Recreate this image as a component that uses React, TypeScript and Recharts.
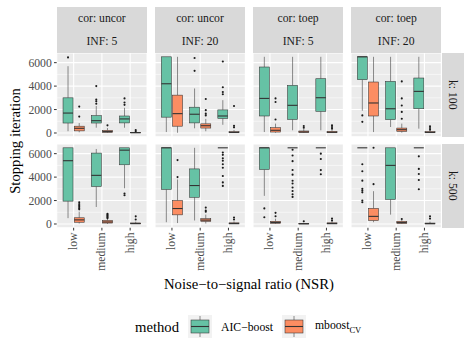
import React from 'react';
import { Bar, BarChart, CartesianGrid, XAxis, YAxis } from 'recharts';

// NSR levels on the x axis of every panel
const nsrLevels = ['low', 'medium', 'high'];

// facet labels
const corLabels = ['uncor', 'uncor', 'toep', 'toep'];
const infLabels = [5, 20, 5, 20];
const kLabels = [100, 500];

// y axis ticks
const majorTicks = [0, 2000, 4000, 6000];
const minorTicks = [1000, 3000, 5000];

// box stats per NSR level: [lower whisker, q1, median, q3, upper whisker]
// k = 100
const aicUncor5K100 = [[150, 850, 1700, 3000, 5700], [450, 850, 1050, 1480, 2300], [450, 860, 1200, 1450, 2150]];
const aicUncor5K100Out = [[6450], [2500, 2700, 2850, 4000], [2400, 2600, 2950]];
const mbUncor5K100 = [[60, 180, 400, 580, 850], [10, 60, 120, 220, 420], [0, 10, 30, 60, 120]];
const mbUncor5K100Out = [[1400, 2250], [650], [150, 250]];

const aicUncor20K100 = [[80, 1350, 4200, 6500, 6500], [400, 860, 1600, 2200, 3800], [700, 1240, 1450, 1970, 2800]];
const aicUncor20K100Out = [[], [5300, 6400], [3300, 3500, 3900, 6100]];
const mbUncor20K100 = [[20, 580, 1650, 3230, 6500], [150, 420, 620, 780, 1200], [0, 20, 50, 110, 250]];
const mbUncor20K100Out = [[], [1500, 1650, 1950, 2900], [480, 620, 2300]];

const aicToep5K100 = [[80, 1450, 2950, 5630, 6500], [230, 1160, 2360, 4060, 6500], [230, 1850, 3010, 4630, 6500]];
const aicToep5K100Out = [[], [], []];
const mbToep5K100 = [[20, 80, 230, 450, 800], [0, 50, 90, 170, 350], [0, 20, 60, 140, 250]];
const mbToep5K100Out = [[1150, 2650, 2950], [450, 600], [370, 510, 650]];

const aicToep20K100 = [[1900, 4550, 6500, 6500, 6500], [510, 1140, 2070, 4400, 6500], [370, 2070, 3550, 4690, 6500]];
const aicToep20K100Out = [[950, 1500], [], []];
const mbToep20K100 = [[80, 1450, 2560, 4350, 6500], [30, 140, 280, 420, 800], [0, 20, 50, 120, 220]];
const mbToep20K100Out = [[], [1220, 1800, 2350, 2950, 4400], [280, 430, 570]];

// k = 500
const aicUncor5K500 = [[500, 1950, 5400, 6500, 6500], [1450, 3200, 4150, 6050, 6400], [3050, 5050, 6300, 6500, 6500]];
const aicUncor5K500Out = [[], [], [2450, 2600]];
const mbUncor5K500 = [[40, 150, 350, 530, 1050], [0, 80, 170, 300, 450], [0, 10, 40, 90, 200]];
const mbUncor5K500Out = [[1250, 1350, 1480, 1600, 1700, 1850], [500, 580, 650, 720, 800, 870], [380, 650]];

const aicUncor20K500 = [[150, 2950, 6500, 6500, 6500], [300, 2280, 3280, 4700, 6500], [6500, 6500, 6500, 6500, 6500]];
const aicUncor20K500Out = [[], [], [3250, 3550, 4100, 4800, 5100, 5400, 5600, 5900, 6100]];
const mbUncor20K500 = [[80, 780, 1320, 2000, 3800], [40, 230, 330, 450, 800], [0, 10, 40, 100, 220]];
const mbUncor20K500Out = [[4000, 5450], [1050, 1150, 1400], [380, 550]];

const aicToep5K500 = [[2400, 4650, 6500, 6500, 6500], [6500, 6500, 6500, 6500, 6500], [6500, 6500, 6500, 6500, 6500]];
const aicToep5K500Out = [[580, 1330], [2310, 2540, 2820, 3110, 3460, 3690, 4210, 4610, 5360, 5850, 6340], [4250, 4600, 5550, 6000]];
const mbToep5K500 = [[0, 60, 130, 230, 450], [0, 0, 20, 50, 100], [0, 10, 40, 100, 200]];
const mbToep5K500Out = [[660, 950], [230], [290, 460]];

const aicToep20K500 = [[6500, 6500, 6500, 6500, 6500], [800, 2100, 5000, 6500, 6500], [6500, 6500, 6500, 6500, 6500]];
const aicToep20K500Out = [[1850, 2000, 2700, 2850, 3000, 3700, 4500, 5100], [], [2970, 3750, 4270, 4700, 5770]];
const mbToep20K500 = [[150, 300, 650, 1330, 2800], [0, 50, 120, 230, 350], [0, 10, 30, 80, 200]];
const mbToep20K500Out = [[3400, 6500], [430], [460, 660]];

const facets = [
  [
    [aicUncor5K100, aicUncor5K100Out, mbUncor5K100, mbUncor5K100Out],
    [aicUncor20K100, aicUncor20K100Out, mbUncor20K100, mbUncor20K100Out],
    [aicToep5K100, aicToep5K100Out, mbToep5K100, mbToep5K100Out],
    [aicToep20K100, aicToep20K100Out, mbToep20K100, mbToep20K100Out],
  ],
  [
    [aicUncor5K500, aicUncor5K500Out, mbUncor5K500, mbUncor5K500Out],
    [aicUncor20K500, aicUncor20K500Out, mbUncor20K500, mbUncor20K500Out],
    [aicToep5K500, aicToep5K500Out, mbToep5K500, mbToep5K500Out],
    [aicToep20K500, aicToep20K500Out, mbToep20K500, mbToep20K500Out],
  ],
];

const GREEN = '#66C2A5';
const ORANGE = '#FC8D62';
const FONT = '"Liberation Serif", "DejaVu Serif", serif';

const COL_X = [56.7, 154.8, 252.9, 351.0];
const PW = 90.4;
const ROW_Y = [53.3, 144.0];
const PH = 83.8;

const extent = (s: number[], out: number[]) => [Math.min(s[0], ...out), Math.max(s[4], ...out)];

// draws one boxplot inside the slot recharts gives the bar
const renderBox = (props: any, method: 'aic' | 'mb', color: string) => {
  const { x, y, width, height, payload } = props;
  const s: number[] = payload[method];
  const out: number[] = payload[method + 'Out'];
  const [lo, hi] = extent(s, out);
  const top = Math.min(y, y + height);
  const bottom = Math.max(y, y + height);
  const py = (v: number) => (hi === lo ? bottom : bottom - ((v - lo) / (hi - lo)) * (bottom - top));
  const cx = x + width / 2;
  return (
    <g>
      <line x1={cx} x2={cx} y1={py(s[4])} y2={py(s[3])} stroke='#333333' strokeWidth={0.55} />
      <line x1={cx} x2={cx} y1={py(s[1])} y2={py(s[0])} stroke='#333333' strokeWidth={0.55} />
      <rect x={x} y={py(s[3])} width={width} height={py(s[1]) - py(s[3])} fill={color} stroke='#333333' strokeWidth={0.55} />
      <line x1={x} x2={x + width} y1={py(s[2])} y2={py(s[2])} stroke='#333333' strokeWidth={1.1} />
      {out.map((v, i) => (
        <circle key={i} cx={cx} cy={py(v)} r={1.05} fill='#1A1A1A' />
      ))}
    </g>
  );
};

const NsrTick = (props: any) => {
  const { x, y, payload } = props;
  return (
    <text
      x={x}
      y={y}
      transform={`rotate(-90 ${x} ${y})`}
      textAnchor='end'
      dominantBaseline='central'
      fill='#4D4D4D'
      fontSize={11.7}
      fontFamily={FONT}
    >
      {payload.value}
    </text>
  );
};

const Panel: React.FC<{ row: number; col: number }> = ({ row, col }) => {
  const [aic, aicOut, mb, mbOut] = facets[row][col];
  const data = nsrLevels.map((nsr, i) => ({
    nsr,
    aic: aic[i],
    aicOut: aicOut[i],
    mb: mb[i],
    mbOut: mbOut[i],
  }));
  const showY = col === 0;
  const showX = row === 1;
  const yw = showY ? COL_X[0] : 0;
  const xh = showX ? 50 : 0;
  const padBottom = showX ? 0 : 6; // room for the "0" label on the top row
  return (
    <div style={{ position: 'absolute', left: COL_X[col] - yw, top: ROW_Y[row] }}>
      <BarChart
        width={PW + yw}
        height={PH + xh + padBottom}
        data={data}
        margin={{ top: 0, right: 0, bottom: padBottom, left: 0 }}
        barCategoryGap={3.5}
        barGap={1.2}
      >
        <CartesianGrid
          fill='#EBEBEB'
          stroke='#FFFFFF'
          strokeWidth={0.55}
          vertical={false}
          horizontalValues={minorTicks}
        />
        <CartesianGrid stroke='#FFFFFF' strokeWidth={1.1} />
        <XAxis
          dataKey='nsr'
          hide={!showX}
          height={xh}
          interval={0}
          padding={{ left: 2.83, right: 2.83 }}
          axisLine={false}
          tickSize={2.7}
          tickLine={{ stroke: '#333333', strokeWidth: 1 }}
          tick={<NsrTick />}
        />
        <YAxis
          type='number'
          hide={!showY}
          width={yw}
          domain={[-325, 6825]}
          ticks={majorTicks}
          interval={0}
          axisLine={false}
          tickSize={2.7}
          tickMargin={2.2}
          tickLine={{ stroke: '#333333', strokeWidth: 1 }}
          tick={{ fill: '#4D4D4D', fontSize: 11.7, fontFamily: FONT }}
        />
        <Bar
          dataKey={(d: any) => extent(d.aic, d.aicOut)}
          fill={GREEN}
          shape={(p: any) => renderBox(p, 'aic', GREEN)}
          isAnimationActive={false}
        />
        <Bar
          dataKey={(d: any) => extent(d.mb, d.mbOut)}
          fill={ORANGE}
          shape={(p: any) => renderBox(p, 'mb', ORANGE)}
          isAnimationActive={false}
        />
      </BarChart>
    </div>
  );
};

const stripText: React.CSSProperties = {
  position: 'absolute',
  display: 'flex',
  alignItems: 'center',
  justifyContent: 'center',
  background: '#D9D9D9',
  color: '#1A1A1A',
  fontSize: 11.7,
  whiteSpace: 'nowrap',
};

const LegendKey: React.FC<{ left: number; color: string }> = ({ left, color }) => (
  <svg style={{ position: 'absolute', left, top: 315 }} width={24} height={23}>
    <rect x={0} y={0} width={24} height={23} fill='#F2F2F2' />
    <line x1={12} x2={12} y1={1} y2={22} stroke='#333333' strokeWidth={0.55} />
    <rect x={3} y={5} width={18} height={13} fill={color} stroke='#333333' strokeWidth={0.55} />
    <line x1={3} x2={21} y1={11.5} y2={11.5} stroke='#333333' strokeWidth={1.1} />
  </svg>
);

const App: React.FC = () => {
  return (
    <div
      style={{
        position: 'absolute',
        left: 0,
        top: 0,
        width: 472,
        height: 354,
        background: '#FFFFFF',
        fontFamily: FONT,
        overflow: 'hidden',
      }}
    >
      {/* column strips */}
      {COL_X.map((x, c) => (
        <React.Fragment key={'s' + c}>
          <div style={{ ...stripText, left: x, top: 7.3, width: PW, height: 23 }}>cor: {corLabels[c]}</div>
          <div style={{ ...stripText, left: x, top: 30.3, width: PW, height: 23 }}>INF: {infLabels[c]}</div>
        </React.Fragment>
      ))}
      {/* row strips */}
      {ROW_Y.map((y, r) => (
        <div
          key={'r' + r}
          style={{ ...stripText, left: COL_X[3] + PW + 0.6, top: y, width: 21.5, height: PH }}
        >
          <span style={{ writingMode: 'vertical-rl' }}>k: {kLabels[r]}</span>
        </div>
      ))}
      {[0, 1].map((r) => [0, 1, 2, 3].map((c) => <Panel key={`${r}-${c}`} row={r} col={c} />))}
      {/* axis titles */}
      <div
        style={{
          position: 'absolute',
          left: 15,
          top: 140.5,
          transform: 'translate(-50%, -50%) rotate(-90deg)',
          fontSize: 14.7,
          whiteSpace: 'nowrap',
          color: '#000',
        }}
      >
        Stopping iteration
      </div>
      <div
        style={{
          position: 'absolute',
          left: 249,
          top: 284,
          transform: 'translate(-50%, -50%)',
          fontSize: 14.7,
          whiteSpace: 'nowrap',
          color: '#000',
        }}
      >
        Noise−to−signal ratio (NSR)
      </div>
      {/* legend */}
      <div style={{ position: 'absolute', left: 135, top: 327, transform: 'translateY(-50%)', fontSize: 14.7 }}>
        method
      </div>
      <LegendKey left={188} color={GREEN} />
      <div style={{ position: 'absolute', left: 221, top: 327, transform: 'translateY(-50%)', fontSize: 11.7 }}>
        AIC−boost
      </div>
      <LegendKey left={282} color={ORANGE} />
      <div style={{ position: 'absolute', left: 315, top: 327, transform: 'translateY(-50%)', fontSize: 11.7 }}>
        mboost<sub style={{ fontSize: 8.5 }}>CV</sub>
      </div>
    </div>
  );
};

export default App;
